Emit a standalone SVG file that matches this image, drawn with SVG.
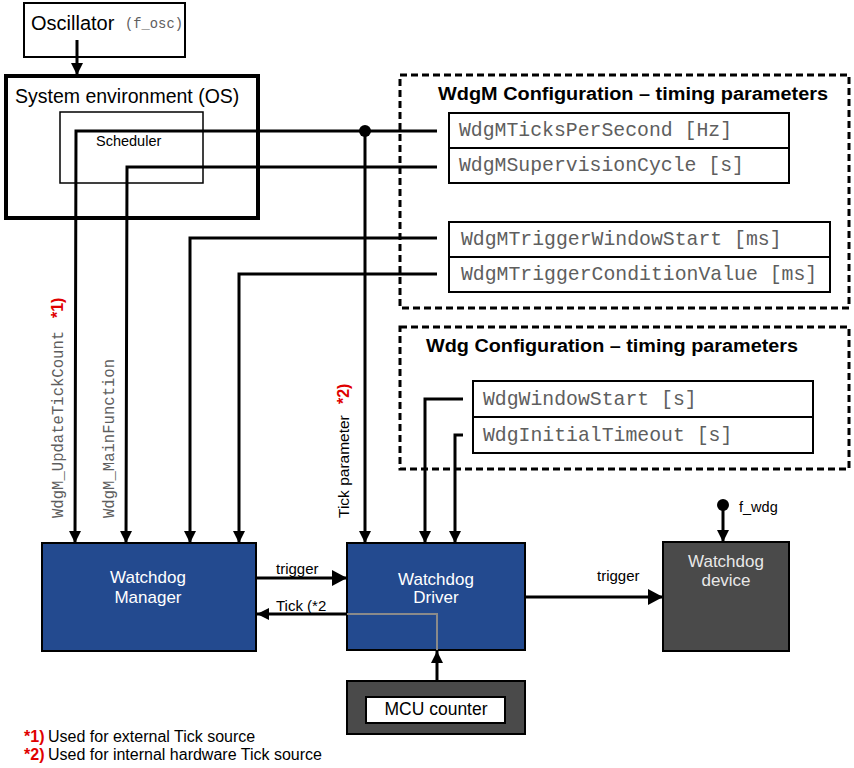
<svg xmlns="http://www.w3.org/2000/svg" width="854" height="768" viewBox="0 0 854 768">
<defs>
<marker id="ah" markerUnits="userSpaceOnUse" markerWidth="13" markerHeight="13" refX="12" refY="6" orient="auto" viewBox="0 0 13 12">
<path d="M0,0 L12,6 L0,12 z" fill="#000"/>
</marker>
<marker id="ahb" markerUnits="userSpaceOnUse" markerWidth="16" markerHeight="16" refX="15" refY="8" orient="auto" viewBox="0 0 16 16">
<path d="M0,0 L15,8 L0,16 z" fill="#000"/>
</marker>
</defs>
<style>
.sans{font-family:"Liberation Sans",Arial,sans-serif}
.mono{font-family:"Liberation Mono","Courier New",monospace;fill:#5e5e5e}
.bold{font-weight:bold}
.red{fill:#e00000;font-weight:bold;font-family:"Liberation Sans",Arial,sans-serif}
.frame{fill:#fff;stroke:#000}
.param{fill:#fff;stroke:#000;stroke-width:2}
.dash{fill:none;stroke:#000;stroke-width:3;stroke-dasharray:7 4}
.blue{fill:#234a8f;stroke:#000;stroke-width:2}
.dark{fill:#4a4a4a;stroke:#000;stroke-width:2}
.wl{fill:none;stroke:#000;stroke-width:3}
.wt{fill:#fff;font-size:17px}
</style>

<g id="oscillator">
<rect class="frame" x="24" y="3" width="161" height="54" stroke-width="2"/>
<text class="sans" x="31" y="30" font-size="20">Oscillator</text>
<text class="mono" x="125" y="28" font-size="13.8">(f_osc)</text>
</g>

<g id="system-environment">
<rect class="frame" x="6" y="76" width="252" height="142" stroke-width="4"/>
<text class="sans" x="15" y="103" font-size="19.5">System environment (OS)</text>
</g>

<g id="scheduler">
<rect class="frame" x="60" y="112" width="143" height="71" stroke-width="1.5"/>
<text class="sans" x="96" y="146" font-size="14.5">Scheduler</text>
</g>

<g id="wdgm-config">
<rect class="dash" x="400" y="75" width="449" height="233"/>
<text class="sans bold" x="438" y="100" font-size="18" textLength="390" lengthAdjust="spacingAndGlyphs">WdgM Configuration – timing parameters</text>
<rect class="param" x="449" y="113" width="340" height="35"/>
<text class="mono" x="459" y="136" font-size="19.8">WdgMTicksPerSecond [Hz]</text>
<rect class="param" x="449" y="148" width="340" height="35"/>
<text class="mono" x="459" y="171" font-size="19.8">WdgMSupervisionCycle [s]</text>
<rect class="param" x="449" y="222" width="381" height="35"/>
<text class="mono" x="461" y="245" font-size="19.8">WdgMTriggerWindowStart [ms]</text>
<rect class="param" x="449" y="257" width="381" height="35"/>
<text class="mono" x="461" y="280" font-size="19.8">WdgMTriggerConditionValue [ms]</text>
</g>

<g id="wdg-config">
<rect class="dash" x="400" y="327" width="449" height="142"/>
<text class="sans bold" x="426" y="352" font-size="18" textLength="372" lengthAdjust="spacingAndGlyphs">Wdg Configuration – timing parameters</text>
<rect class="param" x="473" y="381" width="340" height="36"/>
<text class="mono" x="483" y="405" font-size="19.8">WdgWindowStart [s]</text>
<rect class="param" x="473" y="417" width="340" height="36"/>
<text class="mono" x="483" y="441" font-size="19.8">WdgInitialTimeout [s]</text>
</g>

<g id="watchdog-manager">
<rect class="blue" x="42" y="543" width="214" height="108"/>
<text class="sans wt" x="148" y="583" text-anchor="middle">Watchdog</text>
<text class="sans wt" x="148" y="603" text-anchor="middle">Manager</text>
</g>

<g id="watchdog-driver">
<rect class="blue" x="347" y="543" width="178" height="107"/>
<text class="sans wt" x="436" y="585" text-anchor="middle">Watchdog</text>
<text class="sans wt" x="436" y="603" text-anchor="middle">Driver</text>
</g>

<g id="watchdog-device">
<rect class="dark" x="663" y="542" width="126" height="109"/>
<text class="sans" x="726" y="567" font-size="17" fill="#e8e8e8" text-anchor="middle">Watchdog</text>
<text class="sans" x="726" y="586" font-size="17" fill="#e8e8e8" text-anchor="middle">device</text>
</g>

<g id="mcu-counter">
<rect class="dark" x="347" y="681" width="178" height="53"/>
<rect fill="#fff" stroke="#000" stroke-width="2" x="366" y="697" width="139" height="26"/>
<text class="sans" x="436" y="715" font-size="17.5" text-anchor="middle">MCU counter</text>
</g>

<g id="connectors">
<line class="wl" x1="77" y1="40" x2="77" y2="75" stroke-width="4" marker-end="url(#ah)"/>
<polyline class="wl" points="437,131 76,131 75,543" marker-end="url(#ah)"/>
<polyline class="wl" points="437,167 127,167 126,543" marker-end="url(#ah)"/>
<polyline class="wl" points="437,238 190,238 190,543" marker-end="url(#ah)"/>
<polyline class="wl" points="437,274 239,274 239,543" marker-end="url(#ah)"/>
<circle cx="365" cy="131" r="6" fill="#000"/>
<line class="wl" x1="365" y1="131" x2="365" y2="543" marker-end="url(#ah)"/>
<polyline class="wl" points="463,399 425,399 425,543" marker-end="url(#ah)"/>
<polyline class="wl" points="463,435 455,435 455,543" marker-end="url(#ah)"/>
<line class="wl" x1="256" y1="578" x2="347" y2="578" stroke-width="5" marker-end="url(#ahb)"/>
<line class="wl" x1="347" y1="614" x2="257" y2="614" marker-end="url(#ah)"/>
<polyline fill="none" stroke="#8a8a8a" stroke-width="2" points="347,614 437,614 437,650"/>
<line class="wl" x1="437" y1="681" x2="437" y2="651" marker-end="url(#ah)"/>
<line class="wl" x1="525" y1="597" x2="663" y2="597" stroke-width="5" marker-end="url(#ahb)"/>
<circle cx="723" cy="505" r="6" fill="#000"/>
<line class="wl" x1="723" y1="505" x2="723" y2="542" stroke-width="4" marker-end="url(#ah)"/>
</g>

<g id="labels">
<text class="sans" x="276" y="574" font-size="15">trigger</text>
<text class="sans" x="276" y="611" font-size="15">Tick (*2</text>
<text class="sans" x="597" y="581" font-size="15">trigger</text>
<text class="sans" x="739" y="512" font-size="14.5">f_wdg</text>
<text class="mono" transform="translate(63,518) rotate(-90)" font-size="15.6">WdgM_UpdateTickCount</text>
<text class="red" transform="translate(63,318) rotate(-90)" font-size="16">*1)</text>
<text class="mono" transform="translate(114,518) rotate(-90)" font-size="15.6">WdgM_MainFunction</text>
<text class="sans" transform="translate(349,518) rotate(-90)" font-size="15.5">Tick parameter</text>
<text class="red" transform="translate(349,404) rotate(-90)" font-size="16">*2)</text>
<text class="red" x="24" y="742" font-size="16">*1)</text>
<text class="sans" x="48" y="742" font-size="16">Used for external Tick source</text>
<text class="red" x="24" y="760" font-size="16">*2)</text>
<text class="sans" x="48" y="760" font-size="16">Used for internal hardware Tick source</text>
</g>
</svg>
